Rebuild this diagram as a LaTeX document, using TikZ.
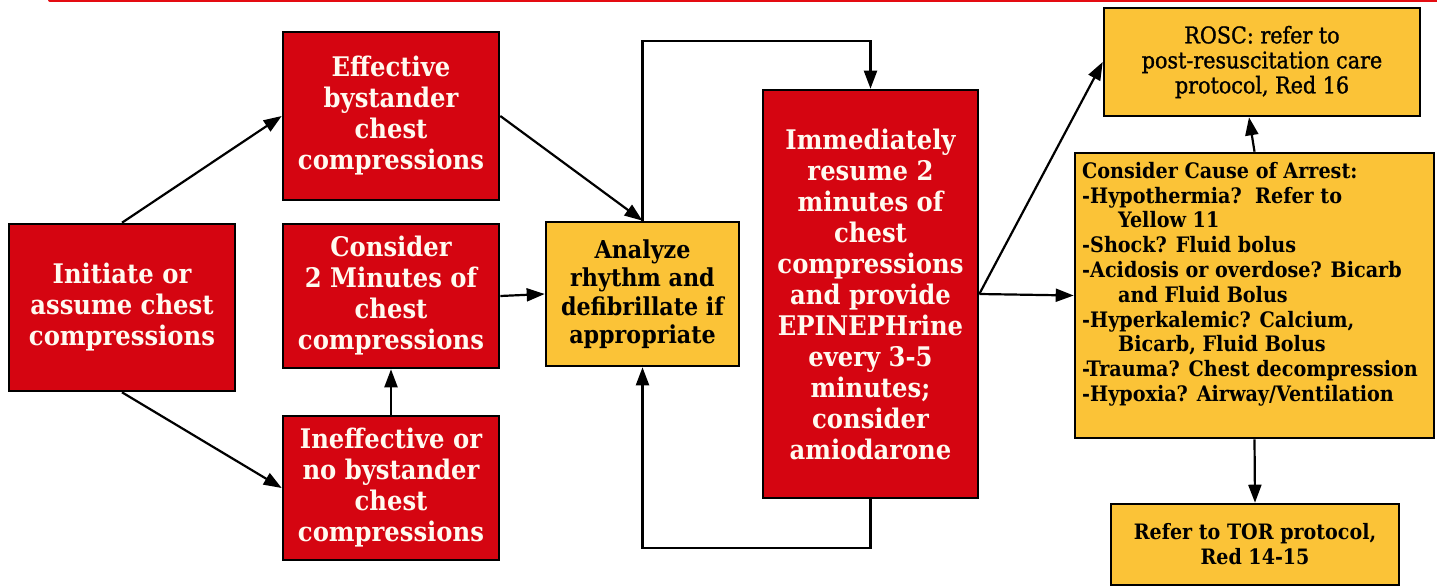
\documentclass[tikz,border=0pt]{standalone}
\usepackage{fontspec}
\setmainfont{DejaVu Serif Condensed}
\newfontfamily\roscfont{DejaVu Serif Condensed}[FakeBold=1.2]
\usetikzlibrary{arrows.meta,calc}
\definecolor{boxred}{RGB}{213,5,17}
\definecolor{boxyellow}{RGB}{251,195,55}
\definecolor{txtwhite}{RGB}{255,250,240}
\definecolor{topred}{RGB}{228,12,18}
\begin{document}
\begin{tikzpicture}[x=1pt,y=-1pt,
  redbox/.style={draw=black,line width=2.6pt,fill=boxred,text=txtwhite,align=center,inner sep=0pt,
    font=\bfseries\fontsize{27}{31}\selectfont},
  yelbox/.style={draw=black,line width=2.6pt,fill=boxyellow,text=black,align=center,inner sep=0pt,
    font=\bfseries\fontsize{21.2}{25}\selectfont},
  arr/.style={draw=black,line width=2.2pt,-{Triangle[length=18pt,width=13pt]}},
  plain/.style={draw=black,line width=2.2pt}]
\useasboundingbox (0,0) rectangle (1437,586);
\draw[topred,line width=4pt,line cap=round] (50,0) -- (1445,0);

\node[redbox,minimum width=226pt,minimum height=167pt] (init) at (122,307.5) {Initiate or\\assume chest\\compressions};
\node[redbox,minimum width=216pt,minimum height=168pt] (eff) at (391,116) {Effective\\bystander\\chest\\compressions};
\node[redbox,minimum width=216pt,minimum height=144pt] (cons) at (391,296) {Consider\\2 Minutes of\\chest\\compressions};
\node[redbox,minimum width=216pt,minimum height=144pt] (ineff) at (391,488) {Ineffective or\\no bystander\\chest\\compressions};
\node[yelbox,minimum width=193pt,minimum height=144pt,font=\bfseries\fontsize{24.7}{28.5}\selectfont] (anal) at (642.5,294) {Analyze\\rhythm and\\defibrillate if\\appropriate};
\node[redbox,minimum width=215pt,minimum height=408pt] (imm) at (870.5,294) {Immediately\\resume 2\\minutes of\\chest\\compressions\\and provide\\EPINEPHrine\\every 3-5\\minutes;\\consider\\amiodarone};
\node[yelbox,minimum width=316pt,minimum height=108pt,font=\roscfont\fontsize{23}{25}\selectfont] (rosc) at (1262,62) {ROSC: refer to\\post-resuscitation care\\protocol, Red 16};
\node[yelbox,minimum width=359pt,minimum height=285pt] (cause) at (1254.5,295.5) {};
\node[anchor=north west,align=left,inner sep=0pt,text=black,font=\bfseries\fontsize{21.3}{24.8}\selectfont] (causetext) at (1082,162)
 {Consider Cause of Arrest:\\
  -Hypothermia?\ \ Refer to\\
  \hspace*{36pt}Yellow 11\\
  -Shock? Fluid bolus\\
  -Acidosis or overdose? Bicarb\\
  \hspace*{36pt}and Fluid Bolus\\
  -Hyperkalemic? Calcium,\\
  \hspace*{36pt}Bicarb, Fluid Bolus\\
  -Trauma? Chest decompression\\
  -Hypoxia? Airway/Ventilation};
\node[yelbox,minimum width=288pt,minimum height=81pt] (tor) at (1255,544.5) {Refer to TOR protocol,\\Red 14-15};

\draw[arr] (init.north) -- (eff.west);
\draw[arr] (init.south) -- (ineff.west);
\draw[arr] (eff.east) -- (anal.north);
\draw[arr] (cons.east) -- (anal.west);
\draw[arr] (ineff.north) -- (cons.south);
\draw[arr] (anal.north) -- ++(0,-180) -| (imm.north);
\draw[arr] (imm.south) -- ++(0,49) -| (anal.south);
\draw[arr] (imm.east) -- (rosc.west);
\draw[arr] (imm.east) -- (cause.west);
\draw[arr] (cause.north) -- ([xshift=-13pt]rosc.south);
\draw[arr] (cause.south) -- (tor.north);
\end{tikzpicture}
\end{document}
